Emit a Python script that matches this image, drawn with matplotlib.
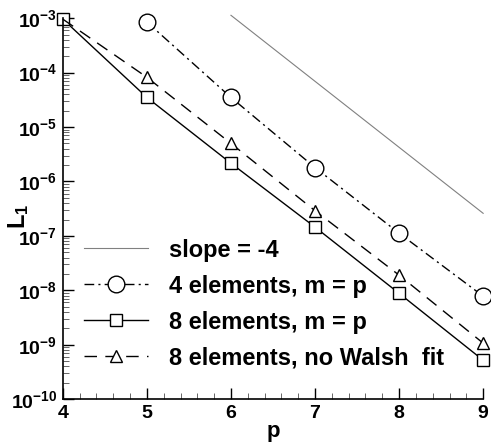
import math
import matplotlib
matplotlib.use('Agg')
import matplotlib.pyplot as plt
from matplotlib.ticker import FixedLocator, LogLocator, FuncFormatter, NullFormatter

plt.rcParams['font.family'] = ['Liberation Sans', 'DejaVu Sans']
plt.rcParams['font.weight'] = 'bold'
plt.rcParams['mathtext.fontset'] = 'custom'
plt.rcParams['mathtext.rm'] = 'Liberation Sans:bold'
plt.rcParams['mathtext.bf'] = 'Liberation Sans:bold'
plt.rcParams['mathtext.it'] = 'Liberation Sans:bold'

# L1 error against polynomial order p
p = [4, 5, 6, 7, 8, 9]
p4 = [5, 6, 7, 8, 9]
err_4el = [8.5e-4, 3.5e-5, 1.8e-6, 1.12e-7, 7.8e-9]
err_8el = [9.6e-4, 3.5e-5, 2.16e-6, 1.45e-7, 8.8e-9, 5.2e-10]
err_8el_nowalsh = [9.6e-4, 8.2e-5, 5.0e-6, 2.9e-7, 1.9e-8, 1.07e-9]
slope_p = [6, 9]
slope_err = [1.13e-3, 2.6e-7]
decades = [-10, -9, -8, -7, -6, -5, -4, -3]

fig = plt.figure(figsize=(4.91, 4.44), dpi=100)
ax = fig.add_axes([0.128, 0.101, 0.856, 0.858])

ax.plot(slope_p, slope_err, color='0.5', lw=0.8, clip_on=False,
        label='slope = -4')
ax.plot(p4, err_4el, color='black', lw=1.0, ls=(0, (7, 3, 1.5, 3)),
        marker='o', ms=12, mfc='white', mec='black', mew=1.0, clip_on=False,
        label='4 elements, m = p')
ax.plot(p, err_8el, color='black', lw=1.0, ls='-',
        marker='s', ms=8, mfc='white', mec='black', mew=1.0, clip_on=False,
        label='8 elements, m = p')
ax.plot(p, err_8el_nowalsh, color='black', lw=1.0, ls=(0, (9, 6)),
        marker='^', ms=9, mfc='white', mec='black', mew=1.0, clip_on=False,
        markevery=slice(1, None),
        label='8 elements, no Walsh  fit')

ax.set_yscale('log')
ax.set_xlim(4, 9)
ax.set_ylim(1e-10, 1e-3)

ax.spines['top'].set_visible(False)
ax.spines['right'].set_visible(False)
for s in ('left', 'bottom'):
    ax.spines[s].set_linewidth(1.2)

ax.xaxis.set_major_locator(FixedLocator(p))
ax.xaxis.set_minor_locator(FixedLocator([4 + 0.2 * i for i in range(26) if i % 5]))
ax.yaxis.set_major_locator(FixedLocator([10.0 ** d for d in decades]))
ax.yaxis.set_minor_locator(LogLocator(base=10, subs=range(2, 10), numticks=20))
ax.yaxis.set_minor_formatter(NullFormatter())
ax.yaxis.set_major_formatter(FuncFormatter(
    lambda v, pos: r'$\mathbf{10^{%d}}$' % round(math.log10(v))))

ax.tick_params(which='major', direction='in', length=8, width=1.0,
               labelsize=14, pad=4)
ax.tick_params(axis='x', which='major', labelsize=14, pad=4)
ax.tick_params(which='minor', direction='in', length=4, width=0.7, color='0.4')
for t in ax.get_xticklabels():
    t.set_fontweight('bold')

ax.set_xlabel('p', fontsize=16, fontweight='bold')
ax.xaxis.set_label_coords(0.5, -0.058)
ax.set_ylabel(r'$\mathbf{L_1}$', fontsize=17)
ax.yaxis.set_label_coords(-0.075, 0.48)

leg = ax.legend(loc='lower left', bbox_to_anchor=(0.0, 0.022), frameon=False,
                prop={'size': 17, 'weight': 'bold'}, handlelength=2.7,
                handletextpad=0.9, labelspacing=0.55)

fig.savefig('out.png', dpi=100)
